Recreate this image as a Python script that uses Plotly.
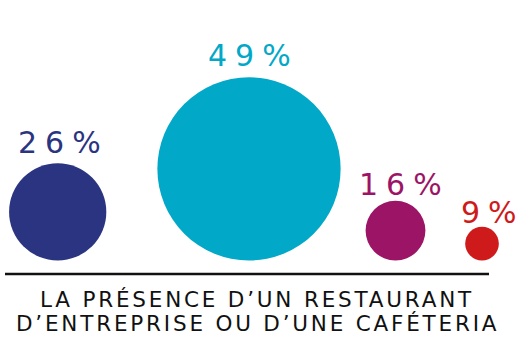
import plotly.graph_objects as go

# ---- data ----
categories = ["A", "B", "C", "D"]
values = [26, 49, 16, 9]
value_labels = ["26%", "49%", "16%", "9%"]
caption_lines = ["LA PRÉSENCE D’UN RESTAURANT", "D’ENTREPRISE OU D’UNE CAFÉTERIA"]

# ---- layout / style ----
colors = ["#2a3480", "#02a8c7", "#9c1466", "#cf1a1b"]
centers_x = [57.7, 249.0, 395.5, 482.0]
label_dx = [5.5, 4.5, 8.5, 11.0]
label_gap = [21, 22, 16, 14]
px_per_unit = 3.74
baseline_y = 260.5
caption_y = [299.0, 323.5]

W, H = 530, 337
fig = go.Figure()

diam = [v * px_per_unit for v in values]
cy = [baseline_y - d / 2 for d in diam]

for i in range(len(values)):
    r = diam[i] / 2
    fig.add_shape(type="circle", xref="x", yref="y",
                  x0=centers_x[i] - r, x1=centers_x[i] + r,
                  y0=cy[i] - r, y1=cy[i] + r,
                  fillcolor=colors[i], line=dict(width=0))
    fig.add_annotation(x=centers_x[i] + label_dx[i],
                       y=cy[i] - r - label_gap[i],
                       text='<span style="letter-spacing:8px">' + value_labels[i] + '</span>',
                       showarrow=False,
                       xanchor="center", yanchor="middle",
                       font=dict(family="DejaVu Sans", size=30, color=colors[i]))

fig.add_shape(type="line", xref="x", yref="y", x0=5, x1=489, y0=274, y1=274,
              line=dict(color="#111111", width=2.5))

for j, line in enumerate(caption_lines):
    fig.add_annotation(x=257, y=caption_y[j],
                       text='<span style="letter-spacing:2.8px">' + line + '</span>',
                       showarrow=False, borderpad=0,
                       xanchor="center", yanchor="middle",
                       font=dict(family="DejaVu Sans", size=21.5, color="#111111"))

fig.add_trace(go.Scatter(x=centers_x, y=cy, mode="markers",
                         marker=dict(size=1, opacity=0), hoverinfo="skip",
                         showlegend=False))

fig.update_layout(width=W, height=H, margin=dict(l=0, r=0, t=0, b=0),
                  paper_bgcolor="white", plot_bgcolor="white",
                  xaxis=dict(range=[0, W], visible=False, fixedrange=True),
                  yaxis=dict(range=[H, 0], visible=False, fixedrange=True))

fig.write_html("out.html", config={"displayModeBar": False},
               post_script="document.body.style.margin='0';document.body.style.overflow='hidden';")
